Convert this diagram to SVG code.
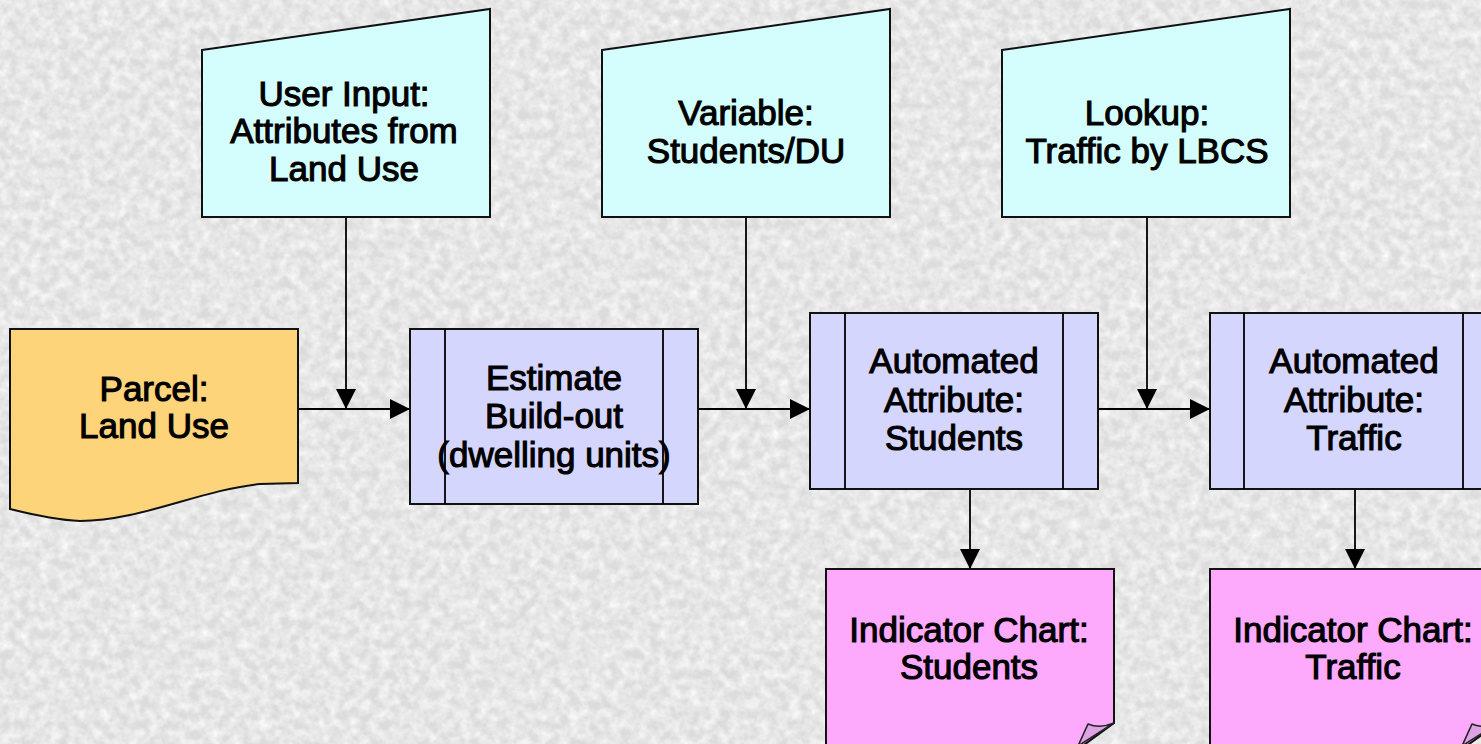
<svg xmlns="http://www.w3.org/2000/svg" width="1481" height="744" viewBox="0 0 1481 744">
  <style>
    .lbl { font-family: "Liberation Sans", Arial, sans-serif; font-size: 35px; font-weight: normal; fill: #000; stroke: #000; stroke-width: 1.1; text-anchor: middle; }
    .edge { stroke: #000; stroke-width: 1.8; fill: none; }
    .shape { stroke: #111; stroke-width: 2; }
    .data { fill: #d4fefe; }
    .proc { fill: #d5d6fe; }
    .doc { fill: #fed47b; }
    .chart { fill: #fdaafd; }
    .curl { fill: #dea3e4; stroke: #222; stroke-width: 1.6; stroke-linejoin: round; }
  </style>
  <defs>
    <filter id="grain" x="0" y="0" width="100%" height="100%">
      <feTurbulence type="fractalNoise" baseFrequency="0.1" numOctaves="3" seed="7"/>
      <feColorMatrix type="matrix" values="0 0 0 0 1  0 0 0 0 1  0 0 0 0 1  1.4 0 0 0 -0.4"/>
    </filter>
    <filter id="grainDark" x="0" y="0" width="100%" height="100%">
      <feTurbulence type="fractalNoise" baseFrequency="0.06" numOctaves="2" seed="3"/>
      <feColorMatrix type="matrix" values="0 0 0 0 0.65  0 0 0 0 0.65  0 0 0 0 0.65  0.8 0 0 0 -0.4"/>
    </filter>
    <marker id="arrow" markerUnits="userSpaceOnUse" markerWidth="20" markerHeight="20" viewBox="0 0 20 20" refX="20" refY="10" orient="auto">
      <path d="M0,0 L20,10 L0,20 Z" fill="#000"/>
    </marker>
  </defs>

  <!-- textured backdrop -->
  <rect width="1481" height="744" fill="#dcdcdc"/>
  <rect width="1481" height="744" filter="url(#grainDark)"/>
  <rect width="1481" height="744" filter="url(#grain)"/>

  <!-- connectors -->
  <g id="connectors" class="edge" marker-end="url(#arrow)">
    <line x1="298" y1="409" x2="410" y2="409"/>
    <line x1="346" y1="217" x2="346" y2="409"/>
    <line x1="698" y1="409" x2="810" y2="409"/>
    <line x1="746" y1="217" x2="746" y2="409"/>
    <line x1="1098" y1="409" x2="1210" y2="409"/>
    <line x1="1147" y1="217" x2="1147" y2="409"/>
    <line x1="970" y1="489" x2="970" y2="569"/>
    <line x1="1355" y1="489" x2="1355" y2="569"/>
  </g>

  <!-- parcel document -->
  <g id="parcel">
    <path class="shape doc" d="M10,329 H298 V483 L260,484 C200,490 140,521 80,521 C55,520 30,514 10,509 Z"/>
    <text class="lbl" x="154" y="401">Parcel:</text>
    <text class="lbl" x="154" y="438">Land Use</text>
  </g>

  <!-- manual inputs -->
  <g id="user-input">
    <path class="shape data" d="M202,50 L490,9 V217 H202 Z"/>
    <text class="lbl" x="344" y="106">User Input:</text>
    <text class="lbl" x="344" y="143">Attributes from</text>
    <text class="lbl" x="344" y="181">Land Use</text>
  </g>
  <g id="variable">
    <path class="shape data" d="M602,50 L890,9 V217 H602 Z"/>
    <text class="lbl" x="746" y="125">Variable:</text>
    <text class="lbl" x="746" y="163">Students/DU</text>
  </g>
  <g id="lookup">
    <path class="shape data" d="M1002,50 L1290,9 V217 H1002 Z"/>
    <text class="lbl" x="1147" y="125">Lookup:</text>
    <text class="lbl" x="1147" y="163">Traffic by LBCS</text>
  </g>

  <!-- predefined processes -->
  <g id="estimate">
    <rect class="shape proc" x="410" y="329" width="288" height="175"/>
    <line class="edge" x1="445" y1="329" x2="445" y2="504"/>
    <line class="edge" x1="663" y1="329" x2="663" y2="504"/>
    <text class="lbl" x="554" y="390">Estimate</text>
    <text class="lbl" x="554" y="428">Build-out</text>
    <text class="lbl" x="554" y="467">(dwelling units)</text>
  </g>
  <g id="auto-students">
    <rect class="shape proc" x="810" y="313" width="288" height="176"/>
    <line class="edge" x1="845" y1="313" x2="845" y2="489"/>
    <line class="edge" x1="1063" y1="313" x2="1063" y2="489"/>
    <text class="lbl" x="954" y="373">Automated</text>
    <text class="lbl" x="954" y="412">Attribute:</text>
    <text class="lbl" x="954" y="450">Students</text>
  </g>
  <g id="auto-traffic">
    <rect class="shape proc" x="1210" y="313" width="288" height="176"/>
    <line class="edge" x1="1244" y1="313" x2="1244" y2="489"/>
    <line class="edge" x1="1463" y1="313" x2="1463" y2="489"/>
    <text class="lbl" x="1354" y="373">Automated</text>
    <text class="lbl" x="1354" y="412">Attribute:</text>
    <text class="lbl" x="1354" y="450">Traffic</text>
  </g>

  <!-- indicator charts (notes with curled corner) -->
  <g id="chart-students">
    <path class="shape chart" d="M826,569 H1114 V723 L1077,750 H826 Z"/>
    <path class="curl" d="M1114,723 Q1100,729 1088,724 L1078,746 Z"/>
    <text class="lbl" x="969" y="642">Indicator Chart:</text>
    <text class="lbl" x="969" y="679">Students</text>
  </g>
  <g id="chart-traffic">
    <path class="shape chart" d="M1210,569 H1498 V723 L1461,750 H1210 Z"/>
    <path class="curl" d="M1498,723 Q1484,729 1472,724 L1462,746 Z"/>
    <text class="lbl" x="1353" y="642">Indicator Chart:</text>
    <text class="lbl" x="1353" y="679">Traffic</text>
  </g>
</svg>
